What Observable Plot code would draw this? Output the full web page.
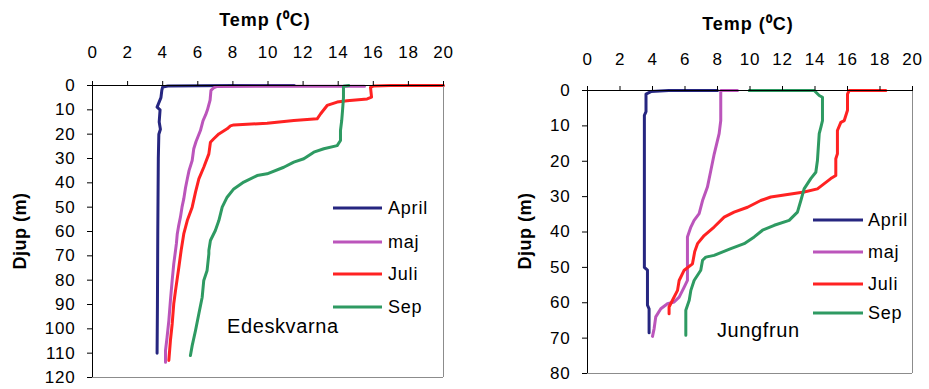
<!DOCTYPE html>
<html>
<head>
<meta charset="utf-8">
<script src="https://cdn.jsdelivr.net/npm/d3@7"></script>
<script src="https://cdn.jsdelivr.net/npm/@observablehq/plot@0.6"></script>
<style>
  html, body { margin: 0; padding: 0; background: #fff; }
  #wrap { position: relative; width: 929px; height: 389px; overflow: hidden; font-family: "Liberation Sans", Arial, sans-serif; color: #000; }
  #wrap svg { position: absolute; top: 0; overflow: visible; }
  .t { position: absolute; white-space: nowrap; line-height: 1; }
  .title { font-weight: bold; font-size: 18px; letter-spacing: 1px; transform: translate(-50%, -50%); }
  .ylab { font-weight: bold; font-size: 18px; letter-spacing: 0.5px; transform: translate(-50%, -50%) rotate(-90deg); }
  .ann { font-size: 20px; letter-spacing: 0.6px; transform: translateY(-50%); }
  .leg { font-size: 18px; letter-spacing: 0.8px; transform: translateY(-50%); }
  .sw { position: absolute; height: 3px; transform: translateY(-50%); }
</style>
</head>
<body>
<div id="wrap"></div>
<script>
// ---------- data: [temperature °C, depth m] ----------
const seriesNames = ["April", "maj", "Juli", "Sep"];
const seriesColors = ["#262680", "#bb55bb", "#ff2222", "#2e9a62"];
const xTicks = [0, 2, 4, 6, 8, 10, 12, 14, 16, 18, 20];
const yTicksEde = [0, 10, 20, 30, 40, 50, 60, 70, 80, 90, 100, 110, 120];
const yTicksJung = [0, 10, 20, 30, 40, 50, 60, 70, 80];

const edeApril = [[11.5,0],[8,0],[4.3,0.2],[4.0,0.6],[3.95,2],[3.9,5],[3.68,8.9],[3.85,10],[3.8,15],[3.87,18],[3.78,20],[3.75,30],[3.72,60],[3.7,90],[3.68,110]];
const edeMaj = [[15.5,0.3],[11,0.3],[7.1,0.4],[6.9,1],[6.75,2],[6.7,6],[6.55,10],[6.45,12],[6.3,14.4],[6.15,18.5],[5.9,23],[5.77,26],[5.68,30.8],[5.5,35],[5.4,38.4],[5.3,42],[5.2,46.6],[5.1,50],[5.01,54.1],[4.9,58],[4.83,61],[4.78,65],[4.73,67.8],[4.63,73.3],[4.54,80.1],[4.44,88.4],[4.35,96.6],[4.25,103.4],[4.16,108.9],[4.16,113.7]];
const edeJuli = [[20,0],[17,0],[16.03,0.2],[15.84,0.8],[15.9,4.8],[15.65,5.5],[14.5,6.3],[13.94,6.8],[13.37,8.2],[13.0,11.6],[12.8,13.7],[11.47,14.4],[9.95,15.5],[8.05,16.2],[7.86,16.6],[7.67,17.8],[7.2,19.9],[6.91,21.9],[6.72,23.3],[6.63,28.1],[6.34,33.6],[6.06,38.4],[5.87,43.8],[5.68,50],[5.4,55.5],[5.2,61],[5.05,67.8],[4.92,74.7],[4.73,84.3],[4.63,89.7],[4.54,98],[4.44,104.8],[4.35,113]];
const edeSep = [[14.6,0],[14.3,0.3],[14.3,5],[14.25,10],[14.2,14.4],[14.13,18.5],[14.13,22.6],[13.94,24.7],[13.18,26],[12.61,27.4],[12.04,30.1],[11.47,31.5],[10.9,33.6],[9.95,36.3],[9.38,37],[8.62,39.7],[8.05,42.5],[7.67,45.9],[7.39,50],[7.2,55.5],[7.0,59.6],[6.72,63.7],[6.63,67.8],[6.63,69.2],[6.53,76],[6.34,80.1],[6.25,87],[6.06,93.8],[5.87,100.7],[5.68,106.9],[5.58,111]];

const jungApril = [[8.0,0],[5,0],[3.9,0.3],[3.6,1],[3.6,2],[3.6,6],[3.5,7],[3.5,50],[3.69,50.8],[3.69,60.7],[3.79,61.7],[3.79,68.5]];
const jungMaj = [[9.23,0],[8.2,0],[8.2,0.5],[8.2,8.5],[8.1,12.2],[8.0,14.1],[7.8,17.9],[7.59,22.6],[7.38,27.3],[7.08,31.1],[6.87,34.8],[6.56,36.7],[6.36,38.6],[6.15,41.4],[6.15,46.1],[6.15,53.7],[5.95,55.6],[5.64,58.4],[5.33,59.8],[4.92,60.3],[4.51,61.7],[4.2,64],[4.1,67.3],[4.0,69.5]];
const jungJuli = [[18.36,0],[16.1,0],[16.0,1],[16.0,5.6],[15.8,8.5],[15.59,9],[15.38,11.3],[15.38,17.9],[15.28,19.3],[15.28,24],[14.97,24.9],[14.15,27.8],[13.33,28.7],[11.9,29.7],[11.28,30.1],[10.66,31.1],[9.85,33],[9.02,34.4],[8.41,35.8],[7.79,38.6],[7.18,41],[6.77,43.3],[6.6,45.5],[6.46,49],[5.95,50.8],[5.64,53.7],[5.54,56.5],[5.23,59.3],[5.02,61.2],[5.02,63.1]];
const jungSep = [[9.95,0],[13.95,0],[14.26,1.4],[14.46,1.9],[14.46,8.5],[14.36,10.4],[14.26,12.2],[14.15,19.8],[14.05,23.1],[13.74,24.9],[13.33,27.8],[13.13,31.1],[12.92,34.4],[12.41,36.7],[11.49,38.1],[10.77,39.5],[10.26,41.4],[9.64,43.3],[8.82,44.7],[7.79,46.6],[7.28,47.1],[7.08,48],[6.97,50.8],[6.56,53.7],[6.36,56.5],[6.26,59.3],[6.05,62.1],[6.05,69.2]];

const titleText = "Temp (\u2070C)";
const yLabelText = "Djup (m)";

// ---------- drawing ----------
function panel(series, yMax, yTicks, opts) {
  const marks = [];
  series.forEach((s, i) => {
    marks.push(Plot.line(s, {x: d => d[0], y: d => d[1], stroke: seriesColors[i], strokeWidth: 3, strokeLinejoin: "round", strokeLinecap: "round", curve: "linear"}));
  });
  marks.push(Plot.ruleX([20], {stroke: "#8c8c8c", strokeWidth: 1}));
  marks.push(Plot.ruleY([yMax], {stroke: "#8c8c8c", strokeWidth: 1}));
  marks.push(Plot.ruleX([0], {stroke: "#000", strokeWidth: 1}));
  marks.push(Plot.ruleY([0], {stroke: "#000", strokeWidth: 1}));
  marks.push(Plot.axisX({anchor: "top", ticks: xTicks, tickSize: 5, tickPadding: opts.xPad, label: null, tickFormat: d => String(d), stroke: "#000"}));
  marks.push(Plot.axisY({anchor: "left", ticks: yTicks, tickSize: 5, tickPadding: opts.yPad, label: null, tickFormat: d => String(d), stroke: "#000"}));
  return Plot.plot({
    width: opts.width, height: 389,
    marginLeft: opts.ml, marginRight: opts.mr, marginTop: opts.mt, marginBottom: opts.mb,
    x: {domain: [0, 20]},
    y: {domain: [0, yMax], reverse: true},
    style: {fontFamily: "'Liberation Sans', Arial, sans-serif", fontSize: "17px", color: "#000", background: "transparent", letterSpacing: "0.8px"},
    marks
  });
}

const wrap = document.getElementById("wrap");
const left = panel([edeApril, edeMaj, edeJuli, edeSep], 120, yTicksEde, {width: 465, ml: 92, mr: 22, mt: 85, mb: 12, xPad: 23, yPad: 12});
left.style.left = "0px";
wrap.appendChild(left);
const right = panel([jungApril, jungMaj, jungJuli, jungSep], 80, yTicksJung, {width: 464, ml: 122, mr: 17, mt: 90, mb: 16, xPad: 21, yPad: 12});
right.style.left = "465px";
wrap.appendChild(right);

function addText(cls, text, x, y) {
  const el = document.createElement("div");
  el.className = "t " + cls;
  el.textContent = text;
  el.style.left = x + "px";
  el.style.top = y + "px";
  wrap.appendChild(el);
}
function addLegend(x0, x1, xt, ys) {
  seriesNames.forEach((n, i) => {
    const sw = document.createElement("div");
    sw.className = "sw";
    sw.style.left = x0 + "px";
    sw.style.width = (x1 - x0) + "px";
    sw.style.top = ys[i] + "px";
    sw.style.background = seriesColors[i];
    wrap.appendChild(sw);
    addText("leg", n, xt, ys[i]);
  });
}

addText("title", titleText, 265, 20);
addText("title", titleText, 748, 24);
addText("ylab", yLabelText, 20, 231);
addText("ylab", yLabelText, 525, 231);
addText("ann", "Edeskvarna", 227, 326);
addText("ann", "Jungfrun", 717, 330);
addLegend(333, 382, 388, [208, 242, 274, 307]);
addLegend(813, 863, 868, [220, 252, 284, 313]);
</script>
</body>
</html>
